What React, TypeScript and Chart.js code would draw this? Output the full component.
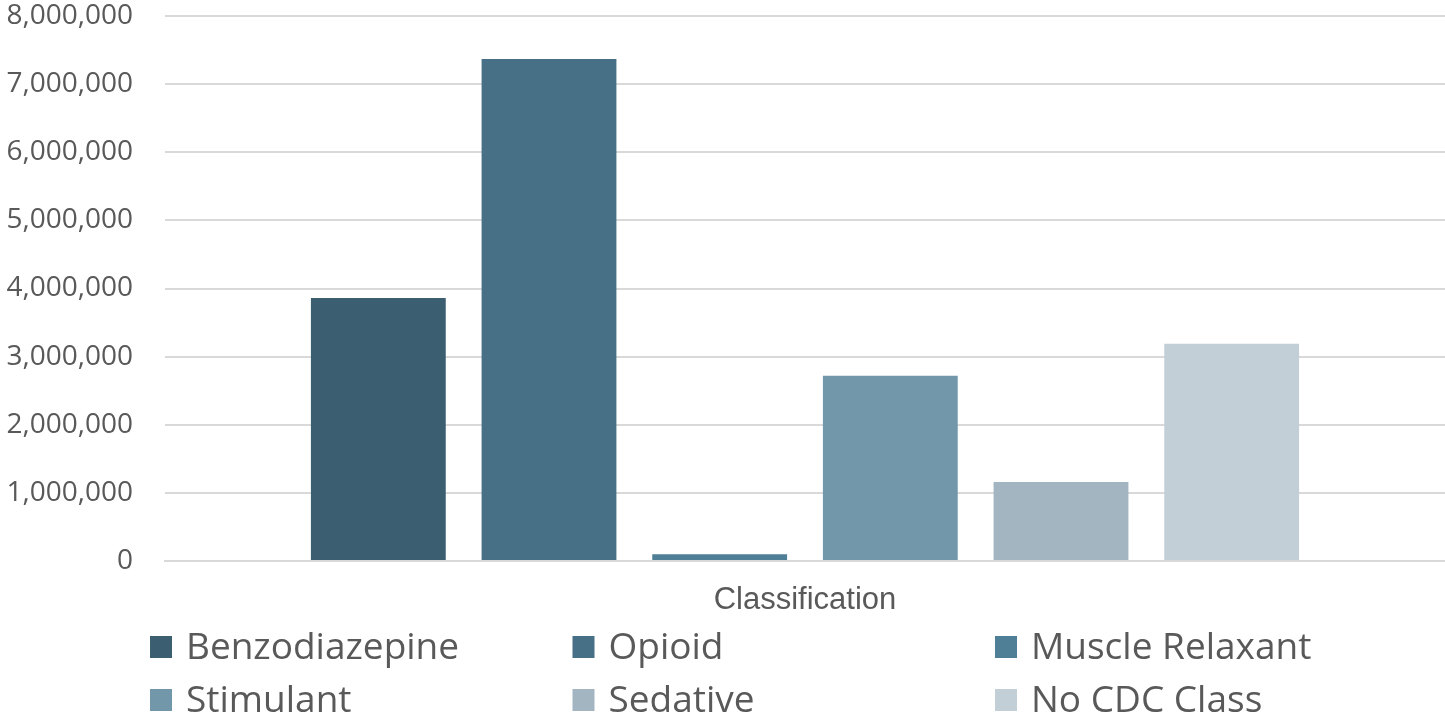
import React, { useEffect, useRef } from "react";
import { Chart, registerables } from "chart.js";

Chart.register(...registerables);

const categories = ["Classification"];
const seriesNames = ["Benzodiazepine", "Opioid", "Muscle Relaxant", "Stimulant", "Sedative", "No CDC Class"];
const seriesValues = [3860000, 7370000, 100000, 2720000, 1160000, 3190000];
const seriesColors = ["#3B5F71", "#477086", "#4F7F96", "#7297AA", "#A3B5C1", "#C2CFD7"];
const yMin = 0;
const yMax = 8000000;
const yStep = 1000000;

const TEXT = "#595959";
const GRID = "#d9d9d9";

const legendPlugin = {
  id: "gridLegend",
  afterDraw(chart: any) {
    const ctx = chart.ctx;
    const items = chart.data.datasets;
    const colStart = 150;
    const colW = 422.5;
    const rows = [647, 700];
    const box = 22;
    ctx.save();
    ctx.font = "37px 'Open Sans'";
    ctx.textBaseline = "middle";
    ctx.textAlign = "left";
    items.forEach((ds: any, i: number) => {
      const c = i % 3;
      const r = Math.floor(i / 3);
      const x = colStart + c * colW;
      const y = rows[r];
      ctx.fillStyle = ds.backgroundColor;
      ctx.fillRect(x, y - box / 2, box, box);
      ctx.fillStyle = TEXT;
      ctx.fillText(ds.label, x + box + 14, y + 1);
    });
    ctx.restore();
  },
};

export default function App() {
  const ref = useRef<HTMLCanvasElement | null>(null);
  useEffect(() => {
    document.body.style.margin = "0";
    const canvas = ref.current!;
    const chart = new Chart(canvas, {
      type: "bar",
      data: {
        labels: categories,
        datasets: seriesNames.map((name, i) => ({
          label: name,
          data: [seriesValues[i]],
          backgroundColor: seriesColors[i],
          borderWidth: 0,
          categoryPercentage: 0.8,
          barPercentage: 0.79,
        })),
      },
      options: {
        responsive: false,
        animation: false,
        devicePixelRatio: 1,
        layout: { padding: { top: 0, left: 0, right: 0, bottom: 0 } },
        plugins: {
          legend: { display: false },
          tooltip: { enabled: false },
        },
        scales: {
          x: {
            grid: { display: false, drawTicks: false },
            border: { display: true, color: GRID, width: 2 },
            ticks: {
              color: TEXT,
              font: { family: "'Liberation Sans', Arial", size: 31 },
              padding: 21,
            },
            afterFit: (scale: any) => {
              scale.height = 157;
            },
          },
          y: {
            min: yMin,
            max: yMax,
            ticks: {
              stepSize: yStep,
              color: TEXT,
              font: { family: "'Open Sans'", size: 28 },
              padding: 32,
              callback: (v: any) => Number(v).toLocaleString("en-US"),
            },
            grid: { color: GRID, lineWidth: 2, drawTicks: false },
            border: { display: false },
            afterFit: (scale: any) => {
              scale.width = 165;
              scale.paddingTop = 16;
            },
          },
        },
      },
      plugins: [legendPlugin],
    });
    return () => chart.destroy();
  }, []);
  return <canvas ref={ref} width={1445} height={718} style={{ display: "block", width: 1445, height: 718 }} />;
}
